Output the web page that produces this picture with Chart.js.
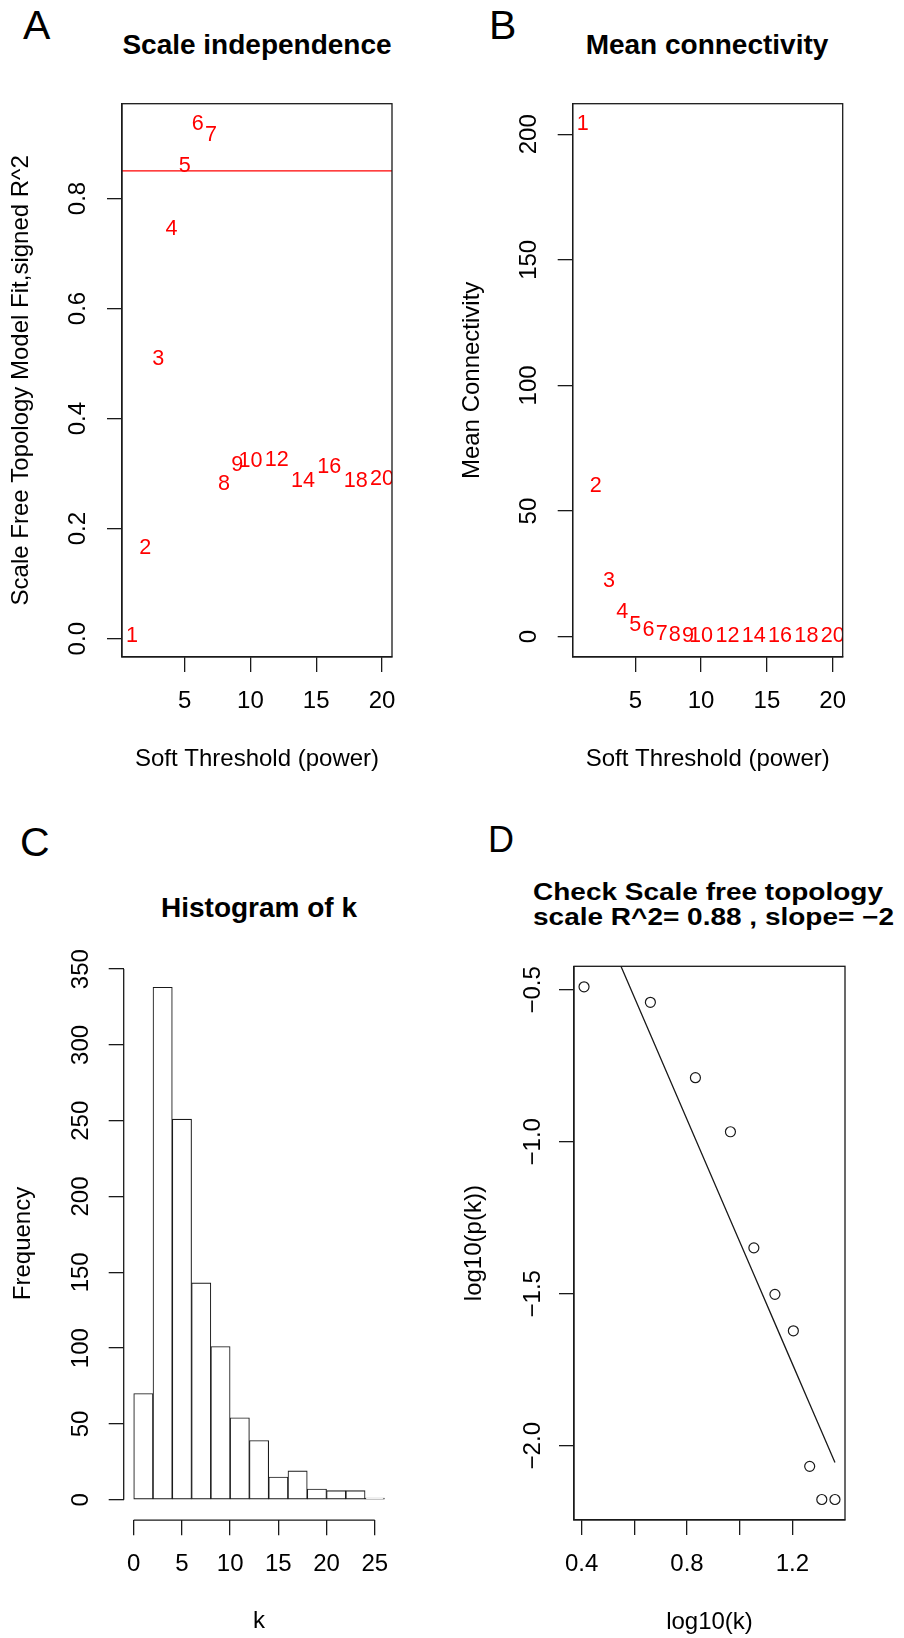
<!DOCTYPE html>
<html>
<head>
<meta charset="utf-8">
<script src="https://cdn.jsdelivr.net/npm/chart.js@4.4.0/dist/chart.umd.min.js"></script>
<style>
  body { margin: 0; background: #fff; width: 904px; height: 1638px; position: relative; overflow: hidden;
         font-family: "Liberation Sans", Arial, Helvetica, sans-serif; color: #000; }
  canvas { position: absolute; }
  .txt { position: absolute; white-space: nowrap; }
  .letter { font-size: 41px; line-height: 41px; }
  .main { font-size: 28px; line-height: 28px; font-weight: bold; width: 400px; text-align: center; }
</style>
</head>
<body>
<div class="txt letter" style="left:23px;top:4.6px">A</div>
<div class="txt letter" style="left:489px;top:4.6px">B</div>
<div class="txt letter" style="left:20px;top:821.8px">C</div>
<div class="txt letter" style="left:488px;top:821.5px;font-size:36px;line-height:36px">D</div>

<div class="txt main" style="left:57px;top:31.3px">Scale independence</div>
<div class="txt main" style="left:507px;top:31.3px">Mean connectivity</div>
<div class="txt main" style="left:59px;top:893.6px">Histogram of k</div>
<div class="txt" style="left:533px;top:880.1px;font-size:23px;line-height:25.3px;font-weight:bold;transform:scaleX(1.217);transform-origin:0 0">Check Scale free topology<br>scale R^2= 0.88 , slope= &minus;2</div>

<canvas id="chartA" width="452" height="819" style="left:0;top:0"></canvas>
<canvas id="chartB" width="452" height="819" style="left:452px;top:0"></canvas>
<canvas id="chartC" width="452" height="819" style="left:0;top:819px"></canvas>
<canvas id="chartD" width="452" height="819" style="left:452px;top:819px"></canvas>

<script>
// =========================
// DATA
// =========================
// A / B : soft threshold scan
const powers = [1, 2, 3, 4, 5, 6, 7, 8, 9, 10, 12, 14, 16, 18, 20];
const powerLabels = powers.map(String);
const sftR2 = [0.004, 0.164, 0.509, 0.745, 0.859, 0.935, 0.916, 0.281, 0.316, 0.322, 0.325, 0.287, 0.312, 0.287, 0.29];
const meanK = [204, 60.1, 22.3, 9.8, 4.5, 2.5, 1.2, 0.7, 0.4, 0.25, 0.15, 0.1, 0.08, 0.06, 0.05];
const r2Cutoff = 0.85;
const powerTicks = [5, 10, 15, 20];
const powerTickLabels = ["5", "10", "15", "20"];
const r2Ticks = [0, 0.2, 0.4, 0.6, 0.8];
const r2TickLabels = ["0.0", "0.2", "0.4", "0.6", "0.8"];
const meanKTicks = [0, 50, 100, 150, 200];
const meanKTickLabels = ["0", "50", "100", "150", "200"];

// C : histogram of k
const kBreaks = [0, 2, 4, 6, 8, 10, 12, 14, 16, 18, 20, 22, 24, 26];
const kCounts = [70, 338, 251, 143, 101, 54, 39, 15, 19, 7, 6, 6, 1];
const kTicks = [0, 5, 10, 15, 20, 25];
const kTickLabels = ["0", "5", "10", "15", "20", "25"];
const freqTicks = [0, 50, 100, 150, 200, 250, 300, 350];
const freqTickLabels = ["0", "50", "100", "150", "200", "250", "300", "350"];

// D : scale free topology check
const logK = [0.409, 0.661, 0.832, 0.965, 1.054, 1.134, 1.204, 1.266, 1.312, 1.362];
const logPk = [-0.49, -0.541, -0.789, -0.967, -1.349, -1.502, -1.622, -2.068, -2.177, -2.177];
const logKTicks = [0.4, 0.6, 0.8, 1.0, 1.2];
const logKTickLabels = ["0.4", "", "0.8", "", "1.2"];
const logPkTicks = [-2, -1.5, -1, -0.5];
const logPkTickLabels = ["\u22122.0", "\u22121.5", "\u22121.0", "\u22120.5"];

// =========================
// HELPERS
// =========================
const FONT = '"Liberation Sans", Arial, Helvetica, sans-serif';
const INK = "#1a1a1a";
Chart.defaults.font.family = FONT;
Chart.defaults.color = "#000";

// R style axis range : data range + 4% each side
function rRange(vals) {
  const lo = Math.min(...vals);
  const hi = Math.max(...vals);
  const d = (hi - lo) * 0.04;
  return { min: lo - d, max: hi + d };
}

// least squares line, like lm() in scaleFreePlot
function lsFit(xs, ys) {
  const n = xs.length;
  const mx = xs.reduce((a, b) => a + b, 0) / n;
  const my = ys.reduce((a, b) => a + b, 0) / n;
  let sxy = 0, sxx = 0;
  xs.forEach((x, i) => {
    sxy += (x - mx) * (ys[i] - my);
    sxx += (x - mx) * (x - mx);
  });
  const slope = sxy / sxx;
  return { slope, intercept: my - slope * mx };
}

function makeScale(pos, o) {
  const vertical = pos === "left";
  return {
    type: "linear",
    position: pos,
    bounds: "data",
    offset: false,
    min: o.min,
    max: o.max,
    afterBuildTicks: (s) => { s.ticks = o.ticks.map((v) => ({ value: v })); },
    afterFit: (s) => { if (vertical) s.width = o.size; else s.height = o.size; },
    ticks: {
      autoSkip: false,
      font: { size: 24 },
      color: "#000",
      padding: o.tickPad,
      minRotation: vertical ? 90 : 0,
      maxRotation: vertical ? 90 : 0,
      crossAlign: vertical ? "center" : "near",
      callback: (v, i) => o.labels[i],
    },
    grid: { offset: false, drawOnChartArea: false, drawTicks: true, tickLength: 15, color: INK, lineWidth: 1.3 },
    border: { display: o.border !== false, color: INK, width: 1.3 },
    title: {
      display: true,
      text: o.title,
      color: "#000",
      font: { size: 24 },
      padding: vertical ? { top: o.titlePad, bottom: 0 } : { top: 0, bottom: o.titlePad },
    },
  };
}

// box round the plot region
const boxPlugin = {
  id: "box",
  afterDraw(chart, args, opts) {
    if (!opts.on) return;
    const { ctx, chartArea: a } = chart;
    ctx.save();
    ctx.strokeStyle = INK;
    ctx.lineWidth = 1.3;
    ctx.strokeRect(a.left, a.top, a.right - a.left, a.bottom - a.top);
    ctx.restore();
  },
};

// red power numbers drawn at each point, clipped like R
const pointTextPlugin = {
  id: "pointText",
  afterDatasetsDraw(chart) {
    const { ctx, chartArea: a } = chart;
    chart.data.datasets.forEach((ds, i) => {
      if (!ds.pointText) return;
      const meta = chart.getDatasetMeta(i);
      ctx.save();
      ctx.beginPath();
      ctx.rect(a.left, a.top, a.right - a.left, a.bottom - a.top);
      ctx.clip();
      ctx.fillStyle = ds.textColor;
      ctx.font = "21.6px " + FONT;
      ctx.textAlign = "center";
      ctx.textBaseline = "middle";
      meta.data.forEach((pt, j) => ctx.fillText(ds.pointText[j], pt.x, pt.y));
      ctx.restore();
    });
  },
};

// abline(h = cutoff)
const hLinePlugin = {
  id: "hLine",
  afterDatasetsDraw(chart, args, opts) {
    if (opts.value == null) return;
    const { ctx, chartArea: a } = chart;
    const y = chart.scales.y.getPixelForValue(opts.value);
    ctx.save();
    ctx.strokeStyle = "#ff0000";
    ctx.lineWidth = 1.3;
    ctx.beginPath();
    ctx.moveTo(a.left, y);
    ctx.lineTo(a.right, y);
    ctx.stroke();
    ctx.restore();
  },
};

// R hist axes : lines only between first and last tick
const histAxesPlugin = {
  id: "histAxes",
  afterDraw(chart, args, opts) {
    if (!opts.on) return;
    const { ctx, chartArea: a, scales } = chart;
    ctx.save();
    ctx.strokeStyle = INK;
    ctx.lineWidth = 1.3;
    ctx.beginPath();
    ctx.moveTo(a.left, scales.y.getPixelForValue(freqTicks[0]));
    ctx.lineTo(a.left, scales.y.getPixelForValue(freqTicks[freqTicks.length - 1]));
    ctx.moveTo(scales.x.getPixelForValue(kTicks[0]), a.bottom);
    ctx.lineTo(scales.x.getPixelForValue(kTicks[kTicks.length - 1]), a.bottom);
    ctx.stroke();
    ctx.restore();
  },
};

const basePlugins = [boxPlugin, pointTextPlugin, hLinePlugin, histAxesPlugin];

function baseOptions(padding, extra) {
  return {
    responsive: false,
    animation: false,
    events: [],
    layout: { autoPadding: false, padding },
    plugins: Object.assign({ legend: { display: false }, tooltip: { enabled: false }, box: { on: true }, hLine: {}, histAxes: {} }, extra),
  };
}

// =========================
// A : SCALE INDEPENDENCE
// =========================
new Chart(document.getElementById("chartA"), {
  type: "scatter",
  data: {
    datasets: [{
      data: powers.map((p, i) => ({ x: p, y: sftR2[i] })),
      pointRadius: 0,
      pointText: powerLabels,
      textColor: "#ff0000",
    }],
  },
  options: Object.assign(baseOptions({ left: 0, right: 60, top: 103.7, bottom: 0 }, { hLine: { value: r2Cutoff } }), {
    scales: {
      x: makeScale("bottom", Object.assign(rRange(powers), { ticks: powerTicks, labels: powerTickLabels, size: 162, tickPad: 15, title: "Soft Threshold (power)", titlePad: 45 })),
      y: makeScale("left", Object.assign(rRange(sftR2), { ticks: r2Ticks, labels: r2TickLabels, size: 122, tickPad: 12, title: "Scale Free Topology Model Fit,signed R^2", titlePad: 6.6 })),
    },
  }),
  plugins: basePlugins,
});

// =========================
// B : MEAN CONNECTIVITY
// =========================
new Chart(document.getElementById("chartB"), {
  type: "scatter",
  data: {
    datasets: [{
      data: powers.map((p, i) => ({ x: p, y: meanK[i] })),
      pointRadius: 0,
      pointText: powerLabels,
      textColor: "#ff0000",
    }],
  },
  options: Object.assign(baseOptions({ left: 0, right: 61.3, top: 103.7, bottom: 0 }), {
    scales: {
      x: makeScale("bottom", Object.assign(rRange(powers), { ticks: powerTicks, labels: powerTickLabels, size: 162, tickPad: 15, title: "Soft Threshold (power)", titlePad: 45 })),
      y: makeScale("left", Object.assign(rRange(meanK), { ticks: meanKTicks, labels: meanKTickLabels, size: 120.7, tickPad: 8, title: "Mean Connectivity", titlePad: 5.6 })),
    },
  }),
  plugins: basePlugins,
});

// =========================
// C : HISTOGRAM OF k
// =========================
new Chart(document.getElementById("chartC"), {
  type: "bar",
  data: {
    datasets: [{
      data: kCounts.map((c, i) => ({ x: (kBreaks[i] + kBreaks[i + 1]) / 2, y: c })),
      backgroundColor: "#ffffff",
      borderColor: INK,
      borderWidth: 1.1,
      borderSkipped: false,
      barPercentage: 1,
      categoryPercentage: 1,
    }],
  },
  options: Object.assign(baseOptions({ left: 0, right: 57.6, top: 147.8, bottom: 0 }, { box: { on: false }, histAxes: { on: true } }), {
    scales: {
      x: makeScale("bottom", Object.assign(rRange(kBreaks), { ticks: kTicks, labels: kTickLabels, size: 117.8, tickPad: 15, title: "k", titlePad: 2, border: false })),
      y: makeScale("left", Object.assign(rRange([0, Math.max(...kCounts)]), { ticks: freqTicks, labels: freqTickLabels, size: 123.7, tickPad: 7.5, title: "Frequency", titlePad: 9, border: false })),
    },
  }),
  plugins: basePlugins,
});

// =========================
// D : SCALE FREE TOPOLOGY
// =========================
const fit = lsFit(logK, logPk);

new Chart(document.getElementById("chartD"), {
  type: "scatter",
  data: {
    datasets: [
      {
        data: logK.map((x, i) => ({ x, y: logPk[i] })),
        pointRadius: 5,
        pointBorderWidth: 1.2,
        pointBorderColor: INK,
        pointBackgroundColor: "rgba(0,0,0,0)",
      },
      {
        type: "line",
        data: logK.map((x) => ({ x, y: fit.intercept + fit.slope * x })),
        borderColor: INK,
        borderWidth: 1.3,
        pointRadius: 0,
        tension: 0,
      },
    ],
  },
  options: Object.assign(baseOptions({ left: 0, right: 59, top: 147.3, bottom: 0 }), {
    scales: {
      x: makeScale("bottom", Object.assign(rRange(logK), { ticks: logKTicks, labels: logKTickLabels, size: 118, tickPad: 15, title: "log10(k)", titlePad: 1.5 })),
      y: makeScale("left", Object.assign(rRange(logPk), { ticks: logPkTicks, labels: logPkTickLabels, size: 122, tickPad: 2, title: "log10(p(k))", titlePad: 8 })),
    },
  }),
  plugins: basePlugins,
});
</script>
</body>
</html>
